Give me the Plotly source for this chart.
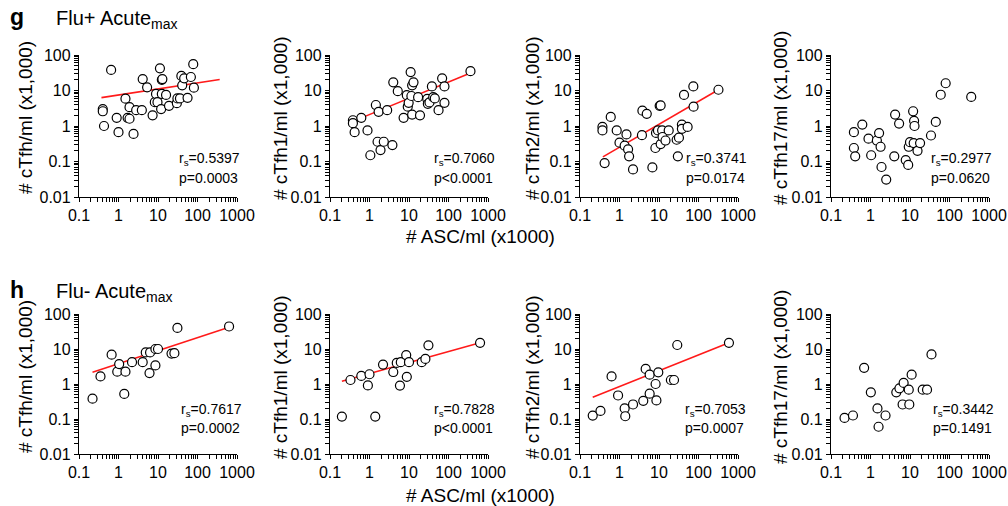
import plotly.graph_objects as go

# ---------------- data ----------------
# Row g: Flu+ Acute max
g_tfh_x = [0.40, 0.40, 0.43, 0.65, 0.9, 1.0, 1.5, 1.7, 1.9, 1.9, 2.4, 2.8, 4.1, 3.9, 5.3, 7.3, 8.3, 8.9, 9.7,
           11.2, 12.5, 12.9, 12, 12.5, 16, 19, 30, 31, 36, 39, 41, 46, 56, 68, 78, 81]
g_tfh_y = [3.0, 2.6, 1.0, 38, 1.7, 0.67, 5.9, 1.7, 3.4, 1.6, 0.6, 2.8, 21, 2.8, 12.3, 2.0, 4.7, 8, 4.7,
           42, 20, 21, 3.0, 8, 7.5, 3.7, 4.4, 6, 6, 25.7, 14, 22, 6.2, 24, 55, 12]
g_tfh_fit_x = [0.37, 365]
g_tfh_fit_y = [6.3, 20.3]

g_tfh1_x = [0.38, 0.38, 0.42, 0.62, 0.89, 1.05, 1.6, 1.45, 1.7, 1.9, 2.3, 2.8, 3.8, 4.0, 5.2, 7.3, 8.8, 9.3,
            9.8, 11, 12, 13, 12, 11.5, 17, 19, 29, 30, 33, 38, 41, 45, 56, 69, 79, 79, 360]
g_tfh1_y = [1.45, 1.2, 0.67, 1.7, 0.75, 0.15, 0.36, 3.9, 2.5, 0.21, 0.36, 2.8, 0.29, 17, 9.6, 1.7, 7.4, 3.5,
            4.5, 33, 14, 17, 2.1, 7, 6.5, 2.0, 5.8, 4.2, 4.6, 13, 6.5, 6, 2.8, 22, 13, 4.5, 35]
g_tfh1_fit_x = [0.38, 360]
g_tfh1_fit_y = [1.35, 31]

g_tfh2_x = [0.37, 0.37, 0.42, 0.6, 0.85, 1.0, 1.35, 1.5, 1.65, 1.75, 2.2, 3.7, 3.8, 4.9, 6.8, 8.4, 8.1, 9.4,
            10.4, 11, 11, 12, 12.3, 14.6, 17.6, 28, 32, 30, 38, 38, 53, 43, 74, 75, 320]
g_tfh2_y = [0.94, 0.75, 0.09, 1.8, 0.75, 0.34, 0.28, 0.58, 0.22, 0.14, 0.06, 0.55, 2.7, 2.2, 0.068, 0.64, 0.24,
            0.75, 3.7, 3.8, 0.31, 0.75, 0.49, 0.39, 0.75, 0.41, 0.47, 0.14, 1.1, 0.83, 0.94, 7.5, 13, 3.5, 10.5]
g_tfh2_fit_x = [0.38, 320]
g_tfh2_fit_y = [0.135, 10.5]

g_tfh17_x = [0.38, 0.38, 0.41, 0.62, 0.89, 1.04, 1.45, 1.65, 1.8, 1.9, 2.5, 4.0, 4.2, 5.3, 7.8, 9, 9.3, 10,
             12, 12.7, 13, 12.4, 15.5, 18, 34, 45, 60, 80, 355]
g_tfh17_y = [0.67, 0.24, 0.14, 1.1, 0.44, 0.15, 0.39, 0.63, 0.26, 0.07, 0.031, 0.14, 2.1, 1.17, 0.11, 0.08, 0.26,
             0.35, 2.6, 1.4, 1.0, 0.33, 0.2, 0.33, 0.54, 1.3, 7.6, 16, 6.6]

# Row h: Flu- Acute max
h_tfh_x = [0.22, 0.35, 0.67, 0.93, 1.04, 1.4, 1.5, 2.2, 4.1, 4.9, 6.1, 6.3, 8.6, 8.6, 10, 22, 26, 31, 630]
h_tfh_y = [0.38, 1.65, 6.9, 2.25, 3.7, 0.52, 2.25, 4.2, 4.2, 8, 2.05, 8, 10, 3.4, 10, 7.4, 7.6, 40, 44]
h_tfh_fit_x = [0.22, 630]
h_tfh_fit_y = [2.15, 42]

h_tfh1_x = [0.20, 0.33, 0.62, 0.91, 1.0, 1.4, 2.2, 4.0, 4.9, 5.9, 6.2, 8.5, 8.8, 10, 21, 26, 31, 630]
h_tfh1_y = [0.117, 1.3, 1.7, 0.91, 1.9, 0.117, 3.6, 2.2, 4.0, 0.9, 4.2, 6.7, 1.6, 4.2, 4.2, 5.2, 12.7, 15]
h_tfh1_fit_x = [0.20, 630]
h_tfh1_fit_y = [1.2, 15]

h_tfh2_x = [0.21, 0.33, 0.63, 0.92, 1.35, 1.4, 2.2, 4.0, 4.6, 5.8, 5.8, 8.2, 8.6, 9.6, 20, 24, 29, 590]
h_tfh2_y = [0.125, 0.17, 1.65, 0.47, 0.2, 0.12, 0.26, 0.33, 2.7, 1.85, 0.53, 1.0, 0.34, 2.15, 1.3, 1.3, 13, 15]
h_tfh2_fit_x = [0.21, 590]
h_tfh2_fit_y = [0.42, 15]

h_tfh17_x = [0.22, 0.36, 0.69, 1.02, 1.5, 1.6, 2.4, 4.5, 5.4, 6.9, 6.5, 9.3, 9.6, 11, 21, 27, 35]
h_tfh17_y = [0.107, 0.126, 2.9, 0.58, 0.2, 0.06, 0.126, 0.58, 0.75, 1.07, 0.26, 0.69, 0.26, 1.85, 0.69, 0.69, 7.0]

y_titles = ["# cTfh/ml (x1,000)", "# cTfh1/ml (x1,000)", "# cTfh2/ml (x1,000)", "# cTfh17/ml (x1,000)"]
g_stats = [("0.5397", "p=0.0003"), ("0.7060", "p<0.0001"), ("0.3741", "p=0.0174"), ("0.2977", "p=0.0620")]
h_stats = [("0.7617", "p=0.0002"), ("0.7828", "p<0.0001"), ("0.7053", "p=0.0007"), ("0.3442", "p=0.1491")]
x_tick_vals = [0.1, 1, 10, 100, 1000]
x_tick_text = ["0.1", "1", "10", "100", "1000"]
y_tick_vals = [0.01, 0.1, 1, 10, 100]
y_tick_text = ["0.01", "0.1", "1", "10", "100"]
x_title = "# ASC/ml (x1000)"
row_titles = [("g", "Flu+ Acute<sub>max</sub>"), ("h", "Flu- Acute<sub>max</sub>")]

# ---------------- layout helpers ----------------
W, H = 1008, 506
FONT = "Liberation Sans, Arial, Helvetica, sans-serif"

def px_x(p):
    return p / W

def px_y(p):
    return 1 - p / H

col_px = [(79, 237), (330, 488), (580, 738), (831, 989)]
row_px = [(55, 197), (314, 454)]
stat_x = [[177, 432, 684, 929], [179, 432, 683, 931]]
stat_y = [(159, 178), (410, 428)]
ytitle_x = [25, 280, 532, 780]
ytitle_y = [118, 377]
xtitle_y = [236, 495]

panels = [
    (g_tfh_x, g_tfh_y, g_tfh_fit_x, g_tfh_fit_y),
    (g_tfh1_x, g_tfh1_y, g_tfh1_fit_x, g_tfh1_fit_y),
    (g_tfh2_x, g_tfh2_y, g_tfh2_fit_x, g_tfh2_fit_y),
    (g_tfh17_x, g_tfh17_y, None, None),
    (h_tfh_x, h_tfh_y, h_tfh_fit_x, h_tfh_fit_y),
    (h_tfh1_x, h_tfh1_y, h_tfh1_fit_x, h_tfh1_fit_y),
    (h_tfh2_x, h_tfh2_y, h_tfh2_fit_x, h_tfh2_fit_y),
    (h_tfh17_x, h_tfh17_y, None, None),
]

# log-axis tick positions: labelled decades plus unlabelled 2..9 subdivisions
def log_ticks(vals, text):
    lo, hi = vals[0], vals[-1]
    tv, tt = [], []
    for v, t in zip(vals, text):
        tv.append(v)
        tt.append(t)
        if v < hi:
            for k in range(2, 10):
                tv.append(v * k)
                tt.append("")
    return tv, tt

x_all_vals, x_all_text = log_ticks(x_tick_vals, x_tick_text)
y_all_vals, y_all_text = log_ticks(y_tick_vals, y_tick_text)

fig = go.Figure()
layout = dict(
    width=W, height=H, margin=dict(l=0, r=0, t=0, b=0, autoexpand=False),
    paper_bgcolor="white", plot_bgcolor="white", showlegend=False,
    font=dict(family=FONT, color="black"),
)
annotations = []

for i, (xs, ys, fx, fy) in enumerate(panels):
    r, c = divmod(i, 4)
    n = "" if i == 0 else str(i + 1)
    xa, ya = "x" + n, "y" + n
    xdom = [px_x(col_px[c][0]), px_x(col_px[c][1])]
    ydom = [px_y(row_px[r][1]), px_y(row_px[r][0])]

    if fx is not None:
        fig.add_trace(go.Scatter(x=fx, y=fy, mode="lines", line=dict(color="#ff1a1a", width=1.6),
                                 xaxis=xa, yaxis=ya, hoverinfo="skip"))
    fig.add_trace(go.Scatter(x=xs, y=ys, mode="markers", cliponaxis=False,
                             marker=dict(symbol="circle", size=9, color="white",
                                         line=dict(color="black", width=1.2)),
                             xaxis=xa, yaxis=ya))
    axis = dict(type="log", showgrid=False, zeroline=False, fixedrange=True, automargin=False,
                tickmode="array", showline=True, linecolor="black", linewidth=1.3,
                ticks="outside", ticklen=4, tickwidth=1, tickcolor="black",
                tickfont=dict(size=16, color="black", family=FONT))
    layout["xaxis" + n] = dict(axis, domain=xdom, range=[-1, 3], tickvals=x_all_vals,
                               ticktext=x_all_text, anchor=ya)
    layout["yaxis" + n] = dict(axis, domain=ydom, range=[-2, 2], tickvals=y_all_vals,
                               ticktext=y_all_text, anchor=xa)
    # y title
    annotations.append(dict(text=y_titles[c], xref="paper", yref="paper", x=px_x(ytitle_x[c]),
                            y=px_y(ytitle_y[r]), textangle=-90, showarrow=False,
                            xanchor="center", yanchor="middle", font=dict(size=19, family=FONT)))
    stats = g_stats if r == 0 else h_stats
    rs, pv = stats[c]
    annotations.append(dict(text="r<sub>s</sub>=" + rs, xref="paper", yref="paper",
                            x=px_x(stat_x[r][c]), y=px_y(stat_y[r][0]), showarrow=False,
                            xanchor="left", yanchor="middle", font=dict(size=14, family=FONT)))
    annotations.append(dict(text=pv, xref="paper", yref="paper",
                            x=px_x(stat_x[r][c]), y=px_y(stat_y[r][1]), showarrow=False,
                            xanchor="left", yanchor="middle", font=dict(size=14, family=FONT)))

for r in range(2):
    annotations.append(dict(text=x_title, xref="paper", yref="paper", x=px_x(480), y=px_y(xtitle_y[r]),
                            showarrow=False, xanchor="center", yanchor="middle",
                            font=dict(size=19, family=FONT)))
    letter, title = row_titles[r]
    top = 17 if r == 0 else 290
    annotations.append(dict(text="<b>" + letter + "</b>", xref="paper", yref="paper", x=px_x(8),
                            y=px_y(top), showarrow=False, xanchor="left", yanchor="middle",
                            font=dict(size=23, family=FONT)))
    annotations.append(dict(text=title, xref="paper", yref="paper", x=px_x(54),
                            y=px_y(top + 2), showarrow=False, xanchor="left", yanchor="middle",
                            font=dict(size=20, family=FONT)))

layout["annotations"] = annotations
fig.update_layout(**layout)
fig.write_html("out.html", config={"displayModeBar": False},
               post_script="document.body.style.margin='0';document.body.style.overflow='hidden';")
